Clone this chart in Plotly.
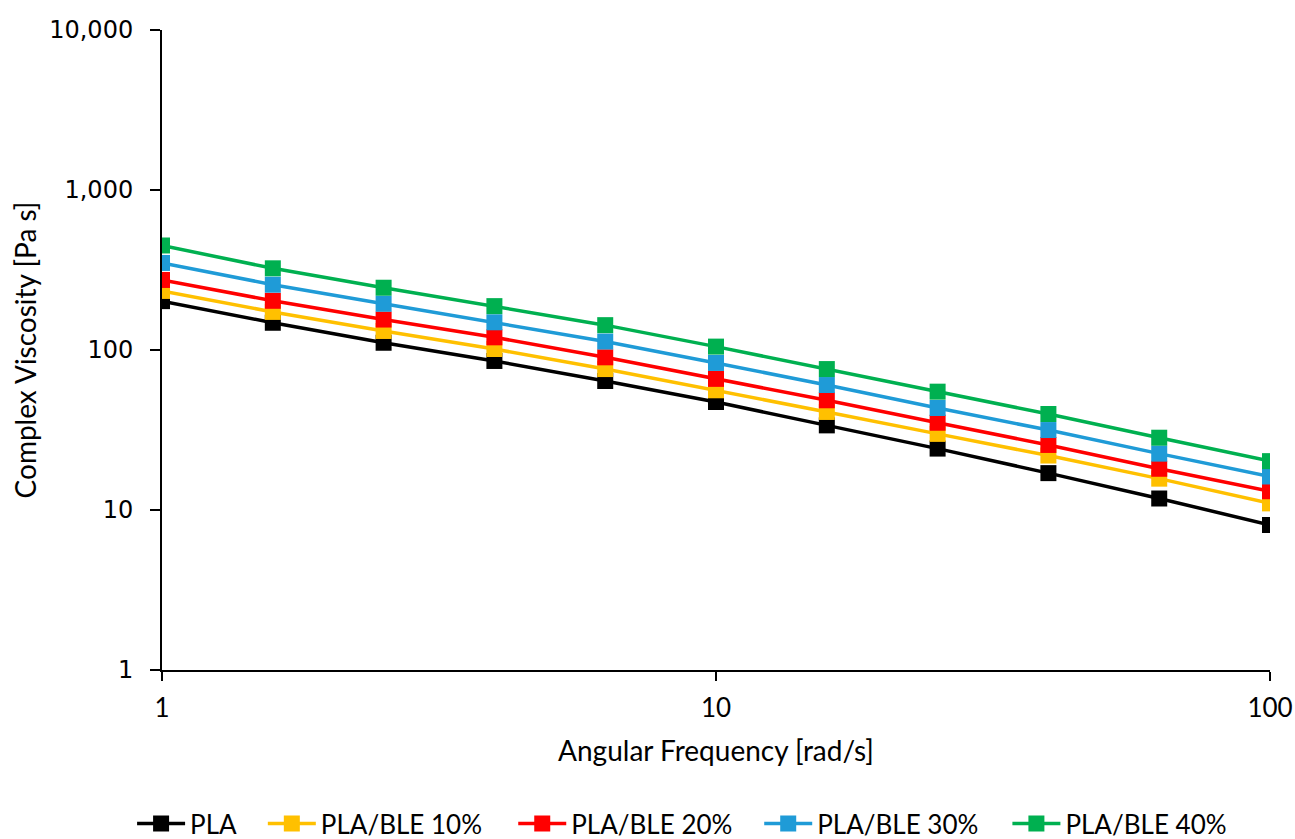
import plotly.graph_objects as go

freq = [1, 1.585, 2.512, 3.981, 6.31, 10, 15.85, 25.12, 39.81, 63.1, 100]

pla =     [202, 148, 111, 85.4, 64, 47.3, 33.8, 24.2, 17.0, 11.8, 8.06]
ble10 =   [234, 173, 131.5, 101.4, 76, 56, 41, 29.9, 21.9, 15.7, 11.0]
ble20 =   [274, 203, 155, 120, 90, 66, 48.5, 35.1, 25.5, 18.1, 13.1]
ble30 =   [350, 256, 194.5, 149, 113, 83, 60.4, 43.4, 31.6, 22.5, 16.2]
ble40 =   [450, 324, 245, 188, 143, 105, 76, 54.9, 39.8, 28.3, 20.2]

names = ["PLA", "PLA/BLE 10%", "PLA/BLE 20%", "PLA/BLE 30%", "PLA/BLE 40%"]
series = [pla, ble10, ble20, ble30, ble40]
colors = ["#000000", "#FFC000", "#FF0000", "#1F9BD7", "#00B050"]
legend_x = [-0.027, 0.091, 0.317, 0.539, 0.763]

y_tickvals = [1, 10, 100, 1000, 10000]
y_ticktext = ["1", "10", "100", "1,000", "10,000"]
x_tickvals = [1, 10, 100]
x_ticktext = ["1", "10", "100"]

fig = go.Figure()
legend_layouts = {}
for i, (name, vals, col, lx) in enumerate(zip(names, series, colors, legend_x)):
    lname = "legend" if i == 0 else f"legend{i+1}"
    fig.add_trace(go.Scatter(
        x=freq, y=vals, name=name, mode="lines+markers",
        line=dict(color=col, width=3.5),
        marker=dict(symbol="square", size=16, color=col),
        legend=lname,
    ))
    legend_layouts[lname] = dict(
        orientation="h", x=lx, xanchor="left", y=-0.24, yanchor="middle",
        font=dict(family="Lato", size=26, color="black"),
        bgcolor="rgba(0,0,0,0)", itemwidth=48,
    )

fig.update_layout(
    width=1295, height=839,
    margin=dict(l=162, r=25, t=30, b=169, autoexpand=False),
    paper_bgcolor="white", plot_bgcolor="white",
    showlegend=True,
    xaxis=dict(
        type="log", range=[0, 2],
        tickvals=x_tickvals, ticktext=x_ticktext,
        showline=True, linecolor="black", linewidth=2,
        ticks="outside", ticklen=9, tickwidth=2, tickcolor="black",
        showgrid=False, zeroline=False, automargin=False,
        ticklabelstandoff=5,
        tickfont=dict(family="Lato", size=26, color="black"),
        title=dict(text="Angular Frequency [rad/s]", font=dict(family="Lato", size=28, color="black"), standoff=19),
    ),
    yaxis=dict(
        type="log", range=[0, 4],
        tickvals=y_tickvals, ticktext=y_ticktext,
        showline=True, linecolor="black", linewidth=2,
        ticks="outside", ticklen=10, tickwidth=2, tickcolor="black",
        showgrid=False, zeroline=False, automargin=False,
        ticklabelstandoff=12,
        tickfont=dict(family="DejaVu Sans", size=24, color="black"),
        title=dict(text="Complex Viscosity [Pa s]", font=dict(family="Lato", size=28, color="black"), standoff=4),
    ),
    **legend_layouts,
)

# remove the default page margin so the figure fills the window exactly
fig.write_html(
    "out.html",
    config={"displayModeBar": False},
    post_script="document.body.style.margin='0';document.body.style.overflow='hidden';",
)
